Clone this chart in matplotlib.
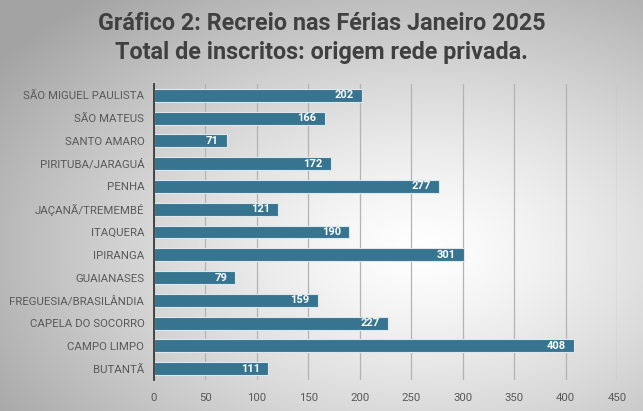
import numpy as np
import matplotlib.pyplot as plt

categories = ["SÃO MIGUEL PAULISTA", "SÃO MATEUS", "SANTO AMARO", "PIRITUBA/JARAGUÁ",
              "PENHA", "JAÇANÃ/TREMEMBÉ", "ITAQUERA", "IPIRANGA", "GUAIANASES",
              "FREGUESIA/BRASILÂNDIA", "CAPELA DO SOCORRO", "CAMPO LIMPO", "BUTANTÃ"]
values = [202, 166, 71, 172, 277, 121, 190, 301, 79, 159, 227, 408, 111]
xticks = [0, 50, 100, 150, 200, 250, 300, 350, 400, 450]

plt.rcParams['font.family'] = ['Roboto', 'DejaVu Sans']

fig = plt.figure(figsize=(6.43, 4.11), dpi=100)

# radial gradient background
bg = fig.add_axes([0, 0, 1, 1], zorder=-1)
yy, xx = np.mgrid[0:411, 0:643]
r = np.sqrt(((xx - 420) / 643) ** 2 + ((yy - 250) / 411) ** 2)
shade = 1.0 - 0.36 * np.clip(r / 0.8, 0, 1) ** 1.3
bg.imshow(np.dstack([shade] * 3), aspect="auto", extent=[0, 1, 0, 1])
bg.axis("off")

ax = fig.add_axes([154 / 643, 1 - 380 / 411, (617 - 154) / 643, (380 - 84) / 411])
ax.patch.set_alpha(0)
y = np.arange(len(categories))
bars = ax.barh(y, values, height=0.57, color="#37748f", edgecolor="#dce8ee",
               linewidth=0.8, zorder=3)
for b, v in zip(bars, values):
    ax.text(v - 8, b.get_y() + b.get_height() / 2, str(v), ha="right", va="center",
            color="white", fontsize=8, fontweight="bold", zorder=4)

ax.set_ylim(len(categories) - 0.5, -0.5)
ax.set_xlim(0, 450)
ax.set_xticks(xticks)
ax.set_yticks(y)
ax.set_yticklabels(categories)
ax.tick_params(axis="both", length=0, labelsize=8.2, colors="#595959")
ax.tick_params(axis="x", pad=9)
ax.tick_params(axis="y", pad=7)
ax.grid(axis="x", color="#b3b3b3", linewidth=0.9, zorder=0)
for s in ["top", "right", "bottom"]:
    ax.spines[s].set_visible(False)
ax.spines["left"].set_color("#3a3a3a")
ax.spines["left"].set_linewidth(1.3)
ax.spines["left"].set_zorder(5)

fig.text(0.5, 1 - 23 / 411, "Gráfico 2: Recreio nas Férias Janeiro 2025", ha="center",
         va="center", fontsize=16.8, fontweight="bold", color="#404040")
fig.text(0.5, 1 - 53 / 411, "Total de inscritos: origem rede privada.", ha="center",
         va="center", fontsize=16.8, fontweight="bold", color="#404040")

fig.savefig("out.png", dpi=100)
